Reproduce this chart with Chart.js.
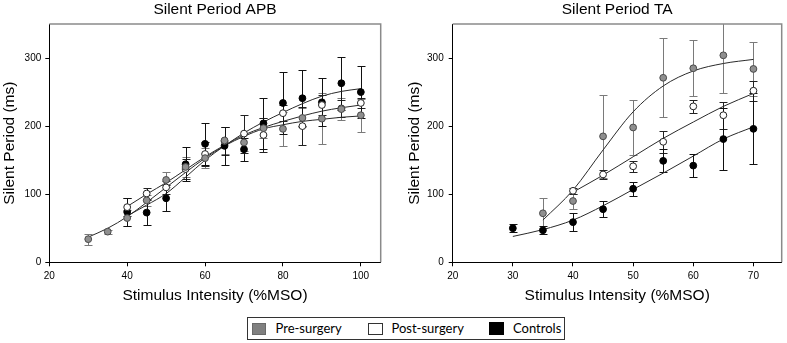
<!DOCTYPE html>
<html><head><meta charset="utf-8">
<script src="https://cdn.jsdelivr.net/npm/chart.js@4.4.1/dist/chart.umd.min.js"></script>
<style>
html,body{margin:0;padding:0;background:#fff;width:787px;height:343px;overflow:hidden;position:relative}
#c1{position:absolute;left:0;top:0}
#c2{position:absolute;left:390px;top:0}
.lg{position:absolute;box-sizing:border-box}
.lt{position:absolute;font-family:Lato,"Open Sans",sans-serif;font-size:13px;line-height:16px;color:#000;white-space:nowrap}
</style></head><body>
<canvas id="c1" width="390" height="306"></canvas>
<canvas id="c2" width="397" height="306"></canvas>
<div class="lg" style="left:246.5px;top:317px;width:318px;height:22.5px;border:1.5px solid #333"></div>
<div class="lg" style="left:251.5px;top:323px;width:14.5px;height:11.5px;background:#808080;border:1px solid #6a6a6a"></div>
<div class="lt" style="left:275.5px;top:320px">Pre-surgery</div>
<div class="lg" style="left:367.5px;top:323px;width:15px;height:11.5px;background:#fff;border:1px solid #333"></div>
<div class="lt" style="left:391.5px;top:320px">Post-surgery</div>
<div class="lg" style="left:488.5px;top:322px;width:15.5px;height:12.5px;background:#000"></div>
<div class="lt" style="left:513px;top:320px">Controls</div>
<script>
// ---------- data: Silent Period APB ----------
const apbX        = [30, 35, 40, 45, 50, 55, 60, 65, 70, 75, 80, 85, 90, 95, 100];
const apbPre      = [34, 45, 65, 91, 121, 140, 153, 179, 176, 197, 196, 212, 211, 225, 216];
const apbPreErr   = [8, 3, 12, 8, 11, 14, 15, 20, 12, 15, 25, 14, 37, 16, 24];
const apbPost     = [null, null, 81, 101, 110, 137, 159, 178, 189, 187, 219, 200, 231, 226, 234];
const apbPostErr  = [null, null, 13, 8, 9, 15, 18, 20, 28, 25, 12, 28, 15, 12, 8];
const apbCtrl     = [null, null, 74, 73, 94, 144, 174, 171, 166, 204, 234, 241, 235, 263, 250];
const apbCtrlErr  = [null, null, 20, 18, 19, 25, 31, 28, 17, 37, 45, 41, 35, 39, 38];
const apbPreFit   = [37, 50, 67, 88, 110, 132, 153, 171, 185, 196, 202, 207, 210, 213, 215];
const apbPostFit  = [null, null, 82, 100, 117, 136, 155, 172, 187, 198, 207, 215, 222, 227, 231];
const apbCtrlFit  = [null, null, 68, 84, 101, 125, 150, 171, 190, 206, 220, 233, 244, 251, 255];
const apbXTicks   = [20, 40, 60, 80, 100];

// ---------- data: Silent Period TA ----------
const taX         = [30, 35, 40, 45, 50, 55, 60, 65, 70];
const taPre       = [null, 72, 90, 185, 198, 271, 285, 304, 284];
const taPreErr    = [null, 22, 11, 61, 41, 58, 41, 55, 40];
const taPost      = [null, null, 105, 129, 141, 177, 229, 216, 252];
const taPostErr   = [null, null, 4, 6, 8, 16, 10, 20, 15];
const taCtrl      = [50, 47, 59, 78, 108, 149, 142, 181, 196];
const taCtrlErr   = [6, 6, 13, 12, 10, 17, 17, 46, 52];
const taPreFit    = [null, 62, 106, 165, 221, 259, 281, 292, 298];
const taPostFit   = [null, null, 103, 128, 155, 182, 206, 229, 248];
const taCtrlFit   = [38, 48, 62, 83, 107, 131, 156, 181, 199];
const taXTicks    = [20, 30, 40, 50, 60, 70];

const yTicks = [0, 100, 200, 300];

const FONT = '"Liberation Sans", Arial, sans-serif';

function pts(xs, ys, es){
  return xs.map((x,i)=> ys[i]==null ? null : {x:x, y:ys[i], e: es ? es[i] : null}).filter(Boolean);
}

const errorBars = {
  id:'errorBars',
  beforeDatasetsDraw(chart){
    const ctx=chart.ctx, xs=chart.scales.x, ys=chart.scales.y, a=chart.chartArea;
    ctx.save();
    ctx.beginPath(); ctx.rect(a.left, a.top, a.right-a.left, a.bottom-a.top); ctx.clip();
    chart.data.datasets.forEach(ds=>{
      if(!ds.errColor) return;
      ctx.strokeStyle=ds.errColor; ctx.lineWidth=1;
      ds.data.forEach(p=>{
        if(p.e==null) return;
        const px=Math.round(xs.getPixelForValue(p.x))+0.5;
        const t=Math.round(ys.getPixelForValue(p.y+p.e))+0.5;
        const b=Math.round(ys.getPixelForValue(p.y-p.e))+0.5;
        ctx.beginPath();
        ctx.moveTo(px,t); ctx.lineTo(px,b);
        ctx.moveTo(px-4,t); ctx.lineTo(px+4,t);
        ctx.moveTo(px-4,b); ctx.lineTo(px+4,b);
        ctx.stroke();
      });
    });
    ctx.restore();
  }
};

const frame = {
  id:'frame',
  afterDatasetsDraw(chart){
    const ctx=chart.ctx, a=chart.chartArea;
    ctx.save();
    ctx.strokeStyle='#8a8a8a'; ctx.lineWidth=1.5;
    ctx.beginPath();
    ctx.moveTo(a.left, a.top); ctx.lineTo(a.right, a.top); ctx.lineTo(a.right, a.bottom);
    ctx.stroke();
    ctx.restore();
  }
};

function makeChart(id, cfg){
  const series = [
    {label:'Pre-surgery',  data:pts(cfg.x, cfg.pre, cfg.preErr),  bg:'#8f8f8f', bd:'#4a4a4a', err:'#7a7a7a'},
    {label:'Post-surgery', data:pts(cfg.x, cfg.post, cfg.postErr), bg:'#ffffff', bd:'#222', err:'#222'},
    {label:'Controls',     data:pts(cfg.x, cfg.ctrl, cfg.ctrlErr), bg:'#000000', bd:'#000', err:'#111'}
  ];
  const datasets = series.map(s=>({
    type:'scatter', label:s.label, data:s.data, showLine:false,
    pointRadius:3.4, pointBorderWidth:1, pointBackgroundColor:s.bg, pointBorderColor:s.bd,
    errColor:s.err, clip:false
  }));
  [cfg.preFit, cfg.postFit, cfg.ctrlFit].forEach(f=>{
    datasets.push({type:'line', data:pts(cfg.x, f), borderColor:'#2a2a2a', borderWidth:1,
      pointRadius:0, fill:false, cubicInterpolationMode:'monotone'});
  });
  return new Chart(document.getElementById(id), {
    data:{datasets},
    plugins:[errorBars, frame],
    options:{
      responsive:false, animation:false, devicePixelRatio:1,
      layout:{padding:{left:0, right:cfg.padRight, top:0, bottom:0}},
      plugins:{
        legend:{display:false}, tooltip:{enabled:false},
        title:{display:true, fullSize:false, text:cfg.title, color:'#000',
          font:{family:FONT, size:15.5, weight:'normal'}, padding:{top:0, bottom:5.4}}
      },
      scales:{
        x:{type:'linear', min:20, max:cfg.xMax,
          afterBuildTicks(s){ s.ticks = cfg.xTicks.map(v=>({value:v})); },
          afterFit(s){ s.height = 306 - 262.3; },
          grid:{drawOnChartArea:false, drawTicks:true, tickLength:4, tickColor:'#000', tickWidth:1},
          border:{display:true, color:'#000', width:1},
          ticks:{color:'#000', font:{family:FONT, size:10}, padding:4, maxRotation:0},
          title:{display:true, text:'Stimulus Intensity (%MSO)', color:'#000',
            font:{family:FONT, size:15.5, weight:'normal'}, padding:{top:0, bottom:0.7}}
        },
        y:{type:'linear', min:0, max:350,
          afterBuildTicks(s){ s.ticks = yTicks.map(v=>({value:v})); },
          afterFit(s){ s.width = cfg.yWidth; },
          grid:{drawOnChartArea:false, drawTicks:true, tickLength:4, tickColor:'#000', tickWidth:1},
          border:{display:true, color:'#000', width:1},
          ticks:{color:'#000', font:{family:FONT, size:10}, padding:cfg.yPad},
          title:{display:true, text:'Silent Period (ms)', color:'#000',
            font:{family:FONT, size:15.5, weight:'normal'}, padding:{top:cfg.yTitlePad, bottom:0}}
        }
      }
    }
  });
}

makeChart('c1', {title:'Silent Period APB', x:apbX, pre:apbPre, preErr:apbPreErr, post:apbPost, postErr:apbPostErr,
  ctrl:apbCtrl, ctrlErr:apbCtrlErr, preFit:apbPreFit, postFit:apbPostFit, ctrlFit:apbCtrlFit,
  xTicks:apbXTicks, xMax:105.1, padRight:9.3, yWidth:49.3, yPad:4, yTitlePad:0});
makeChart('c2', {title:'Silent Period TA', x:taX, pre:taPre, preErr:taPreErr, post:taPost, postErr:taPostErr,
  ctrl:taCtrl, ctrlErr:taCtrlErr, preFit:taPreFit, postFit:taPostFit, ctrlFit:taCtrlFit,
  xTicks:taXTicks, xMax:74.7, padRight:5.3, yWidth:62.7, yPad:5, yTitlePad:15});
</script>
</body></html>
